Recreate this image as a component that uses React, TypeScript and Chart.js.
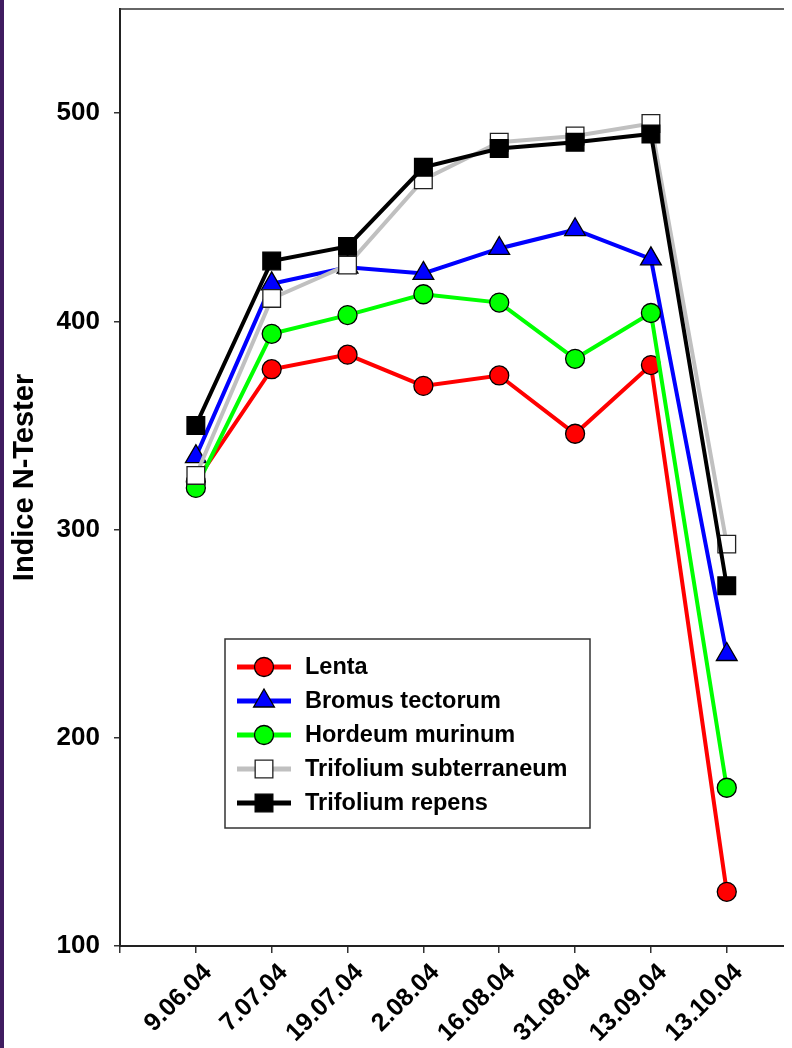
import React, { useEffect, useRef } from 'react';
import { Chart, registerables } from 'chart.js';

Chart.register(...registerables);

// ---- data ----
const categories = ['9.06.04', '7.07.04', '19.07.04', '2.08.04', '16.08.04', '31.08.04', '13.09.04', '13.10.04'];
const seriesNames = ['Lenta', 'Bromus tectorum', 'Hordeum murinum', 'Trifolium subterraneum', 'Trifolium repens'];
const lenta = [323, 377, 384, 369, 374, 346, 379, 126];
const bromus = [335, 418, 426, 423, 435, 444, 430, 240];
const hordeum = [320, 394, 403, 413, 409, 382, 404, 176];
const trifSub = [326, 411, 427, 468, 486, 489, 495, 293];
const trifRep = [350, 429, 436, 474, 483, 486, 490, 273];
const yTicks = [100, 200, 300, 400, 500];
const xTickPositions = [0, 1, 2, 3, 4, 5, 6, 7, 8];
const yTitle = 'Indice N-Tester';

const FONT = '"Liberation Sans", Arial, Helvetica, sans-serif';

type Style = 'circle' | 'triangle' | 'rect';

function drawMarker(ctx: CanvasRenderingContext2D, style: Style, x: number, y: number, r: number, fill: string, stroke: string, bw: number) {
  ctx.save();
  ctx.beginPath();
  if (style === 'circle') {
    ctx.arc(x, y, r, 0, Math.PI * 2);
  } else if (style === 'triangle') {
    for (let k = 0; k < 3; k++) {
      const a = (k * 2 * Math.PI) / 3;
      const px = x + Math.sin(a) * r;
      const py = y - Math.cos(a) * r;
      if (k === 0) ctx.moveTo(px, py); else ctx.lineTo(px, py);
    }
    ctx.closePath();
  } else {
    const s = Math.SQRT1_2 * r;
    ctx.rect(x - s, y - s, 2 * s, 2 * s);
  }
  ctx.fillStyle = fill;
  ctx.fill();
  ctx.lineWidth = bw;
  ctx.strokeStyle = stroke;
  ctx.stroke();
  ctx.restore();
}

const topBorderPlugin = {
  id: 'topBorder',
  afterDraw(chart: any) {
    const { ctx, chartArea } = chart;
    ctx.save();
    ctx.strokeStyle = '#333';
    ctx.lineWidth = 1.5;
    ctx.beginPath();
    ctx.moveTo(chartArea.left, chartArea.top);
    ctx.lineTo(chartArea.right, chartArea.top);
    ctx.stroke();
    ctx.restore();
  },
};

const boxLegendPlugin = {
  id: 'boxLegend',
  afterDraw(chart: any) {
    const ctx: CanvasRenderingContext2D = chart.ctx;
    const bx = 217, by = 631, bw = 365, bh = 189;
    ctx.save();
    ctx.fillStyle = '#fff';
    ctx.fillRect(bx, by, bw, bh);
    ctx.strokeStyle = '#333';
    ctx.lineWidth = 1.5;
    ctx.strokeRect(bx, by, bw, bh);
    chart.data.datasets.forEach((ds: any, i: number) => {
      const y = by + 28 + i * 34;
      ctx.strokeStyle = ds.borderColor;
      ctx.lineWidth = 5;
      ctx.beginPath();
      ctx.moveTo(bx + 12, y);
      ctx.lineTo(bx + 66, y);
      ctx.stroke();
      drawMarker(ctx, ds.pointStyle, bx + 39, y, ds.pointRadius, ds.pointBackgroundColor, ds.pointBorderColor, ds.pointBorderWidth);
      ctx.fillStyle = '#000';
      ctx.font = `bold 23.5px ${FONT}`;
      ctx.textAlign = 'left';
      ctx.textBaseline = 'middle';
      ctx.fillText(ds.label, bx + 80, y + 1);
    });
    ctx.restore();
  },
};

function zeroPadding(s: any) {
  s.paddingTop = 0;
  s.paddingBottom = 0;
  s.paddingLeft = 0;
  s.paddingRight = 0;
}

export default function App() {
  const ref = useRef<HTMLCanvasElement | null>(null);

  useEffect(() => {
    if (!ref.current) return;
    const mk = (values: number[]) => values.map((v, i) => ({ x: i + 1, y: v }));
    const styles = [
      { color: '#ff0000', fill: '#ff0000', pointStyle: 'circle', r: 9.5, border: '#000' },
      { color: '#0000ff', fill: '#0000ff', pointStyle: 'triangle', r: 12, border: '#000' },
      { color: '#00ff00', fill: '#00ff00', pointStyle: 'circle', r: 9.5, border: '#000' },
      { color: '#c0c0c0', fill: '#ffffff', pointStyle: 'rect', r: 12.5, border: '#222' },
      { color: '#000000', fill: '#000000', pointStyle: 'rect', r: 12.5, border: '#000' },
    ];
    const allValues = [lenta, bromus, hordeum, trifSub, trifRep];
    const datasets = allValues.map((vals, i) => ({
      label: seriesNames[i],
      data: mk(vals),
      borderColor: styles[i].color,
      backgroundColor: styles[i].fill,
      borderWidth: 4,
      pointStyle: styles[i].pointStyle,
      pointRadius: styles[i].r,
      pointBackgroundColor: styles[i].fill,
      pointBorderColor: styles[i].border,
      pointBorderWidth: 1.3,
      tension: 0,
      clip: false,
      order: allValues.length - i,
    }));

    const chart = new Chart(ref.current, {
      type: 'line',
      data: { datasets: datasets as any },
      options: {
        animation: false,
        responsive: false,
        events: [],
        layout: { autoPadding: false, padding: { top: 1, right: 0, left: 0, bottom: 0 } },
        plugins: {
          legend: { display: false },
          tooltip: { enabled: false },
        },
        scales: {
          x: {
            type: 'linear',
            position: 'bottom',
            min: 0,
            max: 8.86,
            afterBuildTicks: (s: any) => {
              s.ticks = xTickPositions.map((v) => ({ value: v }));
            },
            afterFit: (s: any) => {
              s.height = 102;
              zeroPadding(s);
            },
            ticks: {
              autoSkip: false,
              minRotation: 45,
              maxRotation: 45,
              padding: 5,
              labelOffset: 12,
              color: '#000',
              font: { family: FONT, size: 25, weight: 'bold' },
              callback: (v: any) => categories[Math.round(Number(v)) - 1] ?? '',
            },
            grid: {
              drawOnChartArea: false,
              drawTicks: true,
              tickLength: 7,
              color: '#333',
              lineWidth: 1.5,
            },
            border: { display: true, color: '#222', width: 2 },
          },
          y: {
            type: 'linear',
            min: 100,
            max: 550,
            afterBuildTicks: (s: any) => {
              s.ticks = yTicks.map((v) => ({ value: v }));
            },
            afterFit: (s: any) => {
              s.width = 112;
              zeroPadding(s);
            },
            ticks: {
              padding: 14,
              color: '#000',
              font: { family: FONT, size: 26, weight: 'bold' },
            },
            grid: {
              drawOnChartArea: false,
              drawTicks: true,
              tickLength: 6,
              color: '#333',
              lineWidth: 1.5,
            },
            border: { display: true, color: '#222', width: 2 },
            title: {
              display: true,
              text: yTitle,
              color: '#000',
              font: { family: FONT, size: 29, weight: 'bold' },
              padding: { top: 0, bottom: 0 },
            },
          },
        },
      },
      plugins: [topBorderPlugin, boxLegendPlugin],
    });
    return () => chart.destroy();
  }, []);

  return (
    <div>
      <div style={{ position: 'fixed', left: 0, top: 0, bottom: 0, width: 4, background: '#401c60' }} />
      <canvas ref={ref} width={784} height={1040} style={{ display: 'block' }} />
    </div>
  );
}
